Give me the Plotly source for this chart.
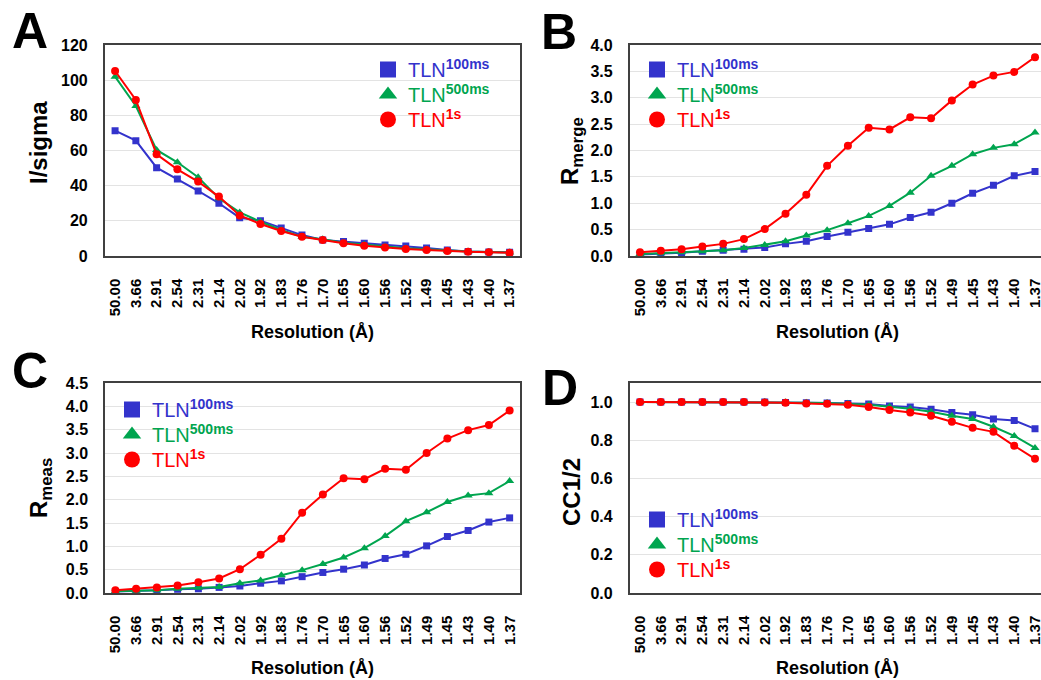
import plotly.graph_objects as go

W, H = 1041, 680
OFF = 0  # page body margin removed via post_script


def xp(s):
    return (s - OFF) / W


def yp(s):
    return 1 - (s - OFF) / H


resolution = ["50.00", "3.66", "2.91", "2.54", "2.31", "2.14", "2.02", "1.92", "1.83", "1.76",
              "1.70", "1.65", "1.60", "1.56", "1.52", "1.49", "1.45", "1.43", "1.40", "1.37"]

series_names = ["100ms", "500ms", "1s"]

# Panel A: I/sigma
isigma_100ms = [71.3, 65.6, 50.2, 43.8, 37.0, 30.0, 21.8, 20.1, 15.9, 11.9,
                9.1, 8.2, 7.2, 6.3, 5.7, 4.5, 3.4, 2.5, 2.3, 2.1]
isigma_500ms = [102.0, 85.3, 60.3, 53.3, 44.8, 32.8, 24.8, 19.5, 14.8, 11.0,
                9.5, 7.6, 6.6, 5.3, 4.4, 3.8, 3.0, 2.5, 2.3, 2.0]
isigma_1s = [105.2, 88.7, 57.8, 49.3, 42.3, 33.8, 23.1, 18.2, 14.2, 11.0,
             9.1, 7.2, 5.9, 4.9, 4.0, 3.4, 2.8, 2.4, 2.2, 1.8]

# Panel B: Rmerge
rmerge_100ms = [0.03, 0.04, 0.06, 0.09, 0.11, 0.13, 0.16, 0.23, 0.28, 0.37,
                0.45, 0.52, 0.60, 0.73, 0.83, 1.00, 1.19, 1.34, 1.52, 1.60]
rmerge_500ms = [0.04, 0.05, 0.07, 0.09, 0.11, 0.15, 0.21, 0.28, 0.39, 0.49,
                0.62, 0.76, 0.95, 1.20, 1.52, 1.71, 1.93, 2.05, 2.12, 2.34]
rmerge_1s = [0.07, 0.10, 0.13, 0.18, 0.23, 0.32, 0.51, 0.80, 1.16, 1.71,
             2.09, 2.43, 2.40, 2.63, 2.61, 2.95, 3.25, 3.42, 3.49, 3.77]

# Panel C: Rmeas
rmeas_100ms = [0.03, 0.04, 0.06, 0.08, 0.09, 0.12, 0.15, 0.21, 0.26, 0.35,
               0.44, 0.51, 0.60, 0.74, 0.83, 1.01, 1.21, 1.34, 1.52, 1.61]
rmeas_500ms = [0.04, 0.05, 0.06, 0.09, 0.11, 0.13, 0.21, 0.27, 0.38, 0.49,
               0.62, 0.76, 0.96, 1.22, 1.54, 1.73, 1.95, 2.09, 2.14, 2.40]
rmeas_1s = [0.06, 0.09, 0.12, 0.16, 0.23, 0.31, 0.51, 0.82, 1.16, 1.72,
            2.11, 2.46, 2.44, 2.66, 2.64, 3.00, 3.31, 3.49, 3.60, 3.91]

# Panel D: CC1/2
cc_100ms = [1.000, 1.000, 1.000, 1.000, 1.000, 1.000, 1.000, 0.998, 0.997, 0.995,
            0.993, 0.990, 0.980, 0.974, 0.963, 0.946, 0.934, 0.911, 0.904, 0.860]
cc_500ms = [1.000, 1.000, 1.000, 1.000, 1.000, 1.000, 1.000, 0.999, 0.997, 0.995,
            0.991, 0.986, 0.976, 0.965, 0.949, 0.928, 0.911, 0.871, 0.823, 0.760]
cc_1s = [1.000, 1.000, 1.000, 1.000, 1.000, 1.000, 0.998, 0.997, 0.993, 0.991,
         0.986, 0.974, 0.958, 0.946, 0.928, 0.897, 0.865, 0.844, 0.771, 0.703]

colors = ["#3333CC", "#00A54F", "#FF0000"]
symbols = ["square", "triangle-up", "circle"]
msizes = [7, 8, 8]

FONT = "Arial, Liberation Sans, sans-serif"

# screen-pixel geometry of each panel (left, right, top, bottom)
panels = [
    dict(key="", series=[isigma_100ms, isigma_500ms, isigma_1s], yrange=[0, 120], dtick=20, fmt="d",
         ytitle="I/sigma", letter="A", box=(104.7, 520, 45, 256),
         legend_at=(388, 68), ytitle_at=(38, 143), xtitle_y=332, letter_at=(30, 31)),
    dict(key="2", series=[rmerge_100ms, rmerge_500ms, rmerge_1s], yrange=[0, 4.0], dtick=0.5, fmt=".1f",
         ytitle="R<sub>merge</sub>", letter="B", box=(629.6, 1045.4, 45, 256),
         legend_at=(657, 68), ytitle_at=(571, 151), xtitle_y=332, letter_at=(559, 32)),
    dict(key="3", series=[rmeas_100ms, rmeas_500ms, rmeas_1s], yrange=[0, 4.5], dtick=0.5, fmt=".1f",
         ytitle="R<sub>meas</sub>", letter="C", box=(105, 520, 383, 593),
         legend_at=(132, 408), ytitle_at=(40, 488), xtitle_y=668, letter_at=(30, 371)),
    dict(key="4", series=[cc_100ms, cc_500ms, cc_1s], yrange=[0, 1.1], dtick=0.2, fmt=".1f",
         ytitle="CC1/2", letter="D", box=(629.6, 1045.4, 383, 593),
         legend_at=(657, 518), ytitle_at=(571, 492), xtitle_y=668, letter_at=(560, 388)),
]

fig = go.Figure()
layout = dict(
    width=W, height=H,
    margin=dict(l=0, r=0, t=0, b=0, autoexpand=False),
    paper_bgcolor="white", plot_bgcolor="white",
    font=dict(family=FONT, color="black"),
    showlegend=True,
)
annotations = []
legend_idx = 0
LEG_STEP = 25

for p in panels:
    k = p["key"]
    xa = "x" + k
    ya = "y" + k
    for i in range(3):
        fig.add_trace(go.Scatter(
            x=resolution, y=p["series"][i], xaxis=xa, yaxis=ya,
            mode="lines+markers", showlegend=False,
            line=dict(color=colors[i], width=2),
            marker=dict(symbol=symbols[i], size=msizes[i], color=colors[i]),
        ))
    mx, my = p["legend_at"]
    for i in range(3):
        legend_idx += 1
        leg = "legend" if legend_idx == 1 else "legend%d" % legend_idx
        fig.add_trace(go.Scatter(
            x=[None], y=[None], xaxis=xa, yaxis=ya, mode="markers",
            legend=leg, showlegend=True,
            name='<span style="color:%s">TLN<sup><b>%s</b></sup></span>' % (colors[i], series_names[i]),
            marker=dict(symbol=symbols[i], size=16, color=colors[i]),
        ))
        cy = my + i * LEG_STEP
        layout[leg] = dict(
            x=xp(mx - 20), y=yp(cy - 18), xanchor="left", yanchor="top",
            bgcolor="rgba(0,0,0,0)", borderwidth=0,
            font=dict(family=FONT, size=20, color="black"),
        )
    x0, x1, yt, yb = p["box"]
    layout["xaxis" + k] = dict(
        domain=[xp(x0), min(1.0, xp(x1))], anchor=ya, type="category",
        categoryorder="array", categoryarray=resolution,
        range=[-0.5, 19.5] if xp(x1) <= 1.0 else [-0.5, -0.5 + 20 * (W - x0) / (x1 - x0)],
        showgrid=False, zeroline=False,
        showline=True, mirror=True, linecolor="#404040", linewidth=1.5,
        ticks="", tickangle=-90, ticklabelstandoff=15,
        tickfont=dict(family=FONT, size=15, weight="bold", color="black"),
    )
    layout["yaxis" + k] = dict(
        domain=[yp(yb), yp(yt)], anchor=xa,
        range=p["yrange"], dtick=p["dtick"], tick0=0, tickformat=p["fmt"],
        showgrid=True, gridcolor="#E3E3E3", gridwidth=1, zeroline=False,
        showline=True, mirror=True, linecolor="#404040", linewidth=1.5,
        ticks="", ticklabelstandoff=12,
        tickfont=dict(family=FONT, size=16, weight="bold", color="black"),
    )
    # axis titles
    annotations.append(dict(
        text="<b>Resolution (Å)</b>", x=xp((x0 + x1) / 2), y=yp(p["xtitle_y"]),
        xref="paper", yref="paper", xanchor="center", yanchor="middle", showarrow=False,
        font=dict(family=FONT, size=18, color="black"),
    ))
    tx, ty = p["ytitle_at"]
    annotations.append(dict(
        text="<b>%s</b>" % p["ytitle"], x=xp(tx), y=yp(ty), xref="paper", yref="paper",
        xanchor="center", yanchor="middle", showarrow=False, textangle=-90,
        font=dict(family=FONT, size=24, color="black"),
    ))
    lx, ly = p["letter_at"]
    annotations.append(dict(
        text="<b>%s</b>" % p["letter"], x=xp(lx), y=yp(ly),
        xref="paper", yref="paper", xanchor="center", yanchor="middle", showarrow=False,
        font=dict(family=FONT, size=50, color="black"),
    ))

layout["annotations"] = annotations
fig.update_layout(**layout)
fig.write_html("out.html", config={"displayModeBar": False},
               post_script="document.body.style.margin='0';")
